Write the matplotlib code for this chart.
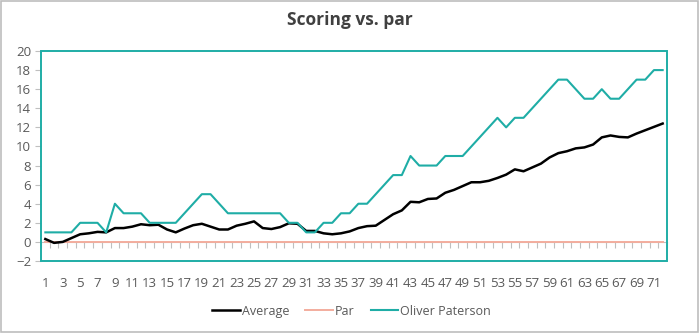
import matplotlib.pyplot as plt
from matplotlib.patches import Rectangle
from matplotlib.ticker import FixedLocator

plt.rcParams['font.family'] = ['Open Sans', 'DejaVu Sans']

rounds = list(range(1, 73))

average = [0.3, -0.1, 0.0, 0.4, 0.8, 0.9, 1.05, 1.0, 1.45, 1.45,
           1.6, 1.85, 1.75, 1.8, 1.3, 1.0, 1.4, 1.75, 1.9, 1.6,
           1.3, 1.3, 1.7, 1.9, 2.15, 1.45, 1.35, 1.55, 1.95, 1.9,
           1.15, 1.15, 0.9, 0.8, 0.9, 1.1, 1.45, 1.65, 1.7, 2.3,
           2.9, 3.3, 4.2, 4.15, 4.5, 4.55, 5.15, 5.45, 5.85, 6.25,
           6.25, 6.4, 6.7, 7.05, 7.6, 7.4, 7.8, 8.2, 8.85, 9.3,
           9.5, 9.8, 9.9, 10.2, 10.95, 11.15, 11.0, 10.95, 11.35, 11.7,
           12.05, 12.4]

par = [0] * 72

oliver = [1, 1, 1, 1, 2, 2, 2, 1, 4, 3,
          3, 3, 2, 2, 2, 2, 3, 4, 5, 5,
          4, 3, 3, 3, 3, 3, 3, 3, 2, 2,
          1, 1, 2, 2, 3, 3, 4, 4, 5, 6,
          7, 7, 9, 8, 8, 8, 9, 9, 9, 10,
          11, 12, 13, 12, 13, 13, 14, 15, 16, 17,
          17, 16, 15, 15, 16, 15, 15, 16, 17, 17,
          18, 18]

teal = '#1fada6'
text_col = '#595959'

fig = plt.figure(figsize=(6.99, 3.33), dpi=100)
ax = fig.add_axes([41 / 699, 72 / 333, 626 / 699, 210 / 333])

ax.plot(rounds, average, color='black', lw=1.8, label='Average', zorder=4)
ax.plot(rounds, par, color='#f3ad9e', lw=1.4, label='Par', zorder=3)
ax.plot(rounds, oliver, color=teal, lw=1.5, label='Oliver Paterson', zorder=5)

ax.set_xlim(0.5, 72.5)
ax.set_ylim(-2, 20)
ax.set_yticks(range(-2, 21, 2))

# category axis sits on zero, labels stay at the bottom
for side in ['top', 'right', 'left']:
    ax.spines[side].set_visible(False)
ax.spines['bottom'].set_position(('data', 0))
ax.spines['bottom'].set_color('#bfbfbf')
ax.spines['bottom'].set_linewidth(0.8)
ax.set_xticks(rounds[::2])
ax.set_xticklabels([str(r) for r in rounds[::2]])
ax.xaxis.set_minor_locator(FixedLocator([r + 0.5 for r in range(0, 73)]))
ax.tick_params(axis='x', which='major', length=0, pad=25, labelsize=9.5,
               labelcolor=text_col)
ax.tick_params(axis='x', which='minor', length=4, color='#bfbfbf', width=0.8)
ax.tick_params(axis='y', length=4, color='#bfbfbf', width=0.8, labelsize=9.5,
               labelcolor=text_col, pad=3)

ax.add_patch(Rectangle((0, 0), 1, 1, transform=ax.transAxes, fill=False,
                       ec=teal, lw=1.4, zorder=6, clip_on=False))

fig.text(0.5, 0.94, 'Scoring vs. par', ha='center', va='center',
         fontsize=12.5, fontweight='bold', color='#404040')

fig.legend(loc='center', bbox_to_anchor=(0.503, 0.066), ncol=3, frameon=False,
           fontsize=9, labelcolor=text_col, handlelength=2.2,
           handletextpad=0.15, columnspacing=1.3)

fig.add_artist(Rectangle((0.001, 0.002), 0.997, 0.995, transform=fig.transFigure,
                         fill=False, ec='#bdbdbd', lw=1.2))

fig.savefig('out.png', dpi=100)
